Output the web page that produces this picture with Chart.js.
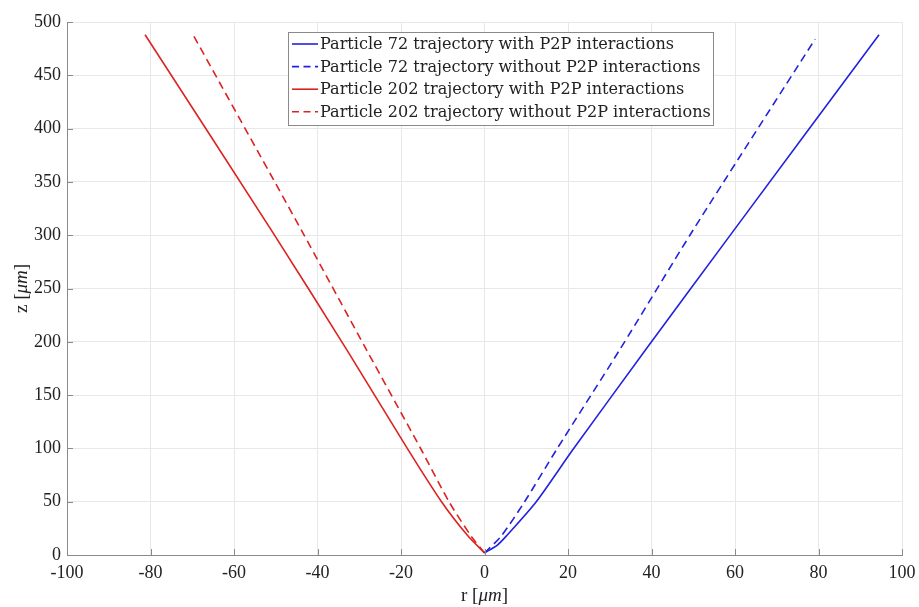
<!DOCTYPE html>
<html>
<head>
<meta charset="utf-8">
<script src="https://cdn.jsdelivr.net/npm/chart.js@4.4.1/dist/chart.umd.min.js"></script>
<style>
  html, body { margin: 0; padding: 0; background: #fff; }
  #wrap { width: 919px; height: 607px; }
</style>
</head>
<body>
<div id="wrap"><canvas id="trajChart" width="919" height="607"></canvas></div>
<script>
// valori (r in um, z in um)
const xTicks = [-100, -80, -60, -40, -20, 0, 20, 40, 60, 80, 100];
const yTicks = [0, 50, 100, 150, 200, 250, 300, 350, 400, 450, 500];

const labels = [
  "Particle 72 trajectory with P2P interactions",
  "Particle 72 trajectory without P2P interactions",
  "Particle 202 trajectory with P2P interactions",
  "Particle 202 trajectory without P2P interactions",
];

const p72WithR = [0, 3.0, 5.2, 12.4, 21.1, 38.5, 59.8, 94.5];
const p72WithZ = [2, 9, 17.7, 50, 98.5, 192, 305, 488];
const p72WithoutR = [0, 4.0, 9.6, 17.2, 32.3, 50.0, 79.2];
const p72WithoutZ = [2, 17.7, 50, 98.5, 192, 305, 484];
const p202WithR = [0, -4.0, -10.3, -18.5, -32.9, -51.1, -81.3];
const p202WithZ = [2, 18, 50, 100, 192, 305, 488];
const p202WithoutR = [0, -3.2, -8.5, -15.1, -28.2, -43.9, -69.8];
const p202WithoutZ = [2, 17.7, 50, 98.5, 192, 305, 488];

const BLUE = "#2222dd";
const RED = "#dd2222";
const FONT = "'Liberation Serif', 'DejaVu Serif', serif";
const LEGEND_FONT = "'DejaVu Serif', serif";

function pts(rs, zs) {
  return rs.map((r, i) => ({ x: r, y: zs[i] }));
}

function lineSet(label, data, color, dashed) {
  return {
    label: label,
    data: data,
    borderColor: color,
    borderWidth: 1.6,
    borderDash: dashed ? [8, 5] : [],
    pointRadius: 0,
    tension: 0.25,
    fill: false,
  };
}

// tacche verso l'interno, titoli degli assi con micro in corsivo, legenda nel riquadro
const extras = {
  id: "extras",
  afterDraw(chart) {
    const ctx = chart.ctx;
    const area = chart.chartArea;
    const xs = chart.scales.x;
    const ys = chart.scales.y;
    ctx.save();
    ctx.strokeStyle = "#8a8a8a";
    ctx.lineWidth = 1;
    ctx.beginPath();
    xTicks.forEach((v) => {
      const px = Math.round(xs.getPixelForValue(v)) + 0.5;
      ctx.moveTo(px, area.bottom);
      ctx.lineTo(px, area.bottom - 6);
    });
    yTicks.forEach((v) => {
      const py = Math.round(ys.getPixelForValue(v)) + 0.5;
      ctx.moveTo(area.left, py);
      ctx.lineTo(area.left + 6, py);
    });
    ctx.stroke();

    // titoli assi
    ctx.fillStyle = "#222";
    ctx.textBaseline = "middle";
    const drawTitle = (pre, it, post, cx, cy, rot) => {
      ctx.save();
      ctx.translate(cx, cy);
      if (rot) ctx.rotate(-Math.PI / 2);
      const fN = "19px " + FONT;
      const fI = "italic 19px " + FONT;
      ctx.font = fN;
      const w1 = ctx.measureText(pre).width;
      const w3 = ctx.measureText(post).width;
      ctx.font = fI;
      const w2 = ctx.measureText(it).width;
      let x = -(w1 + w2 + w3) / 2;
      ctx.textAlign = "left";
      ctx.font = fN;
      ctx.fillText(pre, x, 0);
      ctx.font = fI;
      ctx.fillText(it, x + w1, 0);
      ctx.font = fN;
      ctx.fillText(post, x + w1 + w2, 0);
      ctx.restore();
    };
    drawTitle("r [", "μm", "]", (area.left + area.right) / 2, 596, false);
    drawTitle("z [", "μm", "]", 22, (area.top + area.bottom) / 2, true);

    // legenda
    const bx = 288, by = 32.5, bw = 425, bh = 93;
    ctx.fillStyle = "#fff";
    ctx.fillRect(bx, by, bw, bh);
    ctx.strokeStyle = "#8a8a8a";
    ctx.lineWidth = 1;
    ctx.strokeRect(bx + 0.5, by, bw, bh);
    // dimensione del testo adattata alla larghezza del riquadro
    ctx.font = "16px " + LEGEND_FONT;
    const widest = Math.max(...chart.data.datasets.map((d) => ctx.measureText(d.label).width));
    const size = 16 * 391 / widest;
    ctx.font = size.toFixed(2) + "px " + LEGEND_FONT;
    ctx.textAlign = "left";
    chart.data.datasets.forEach((ds, i) => {
      const cy = 44 + i * 22.6;
      ctx.strokeStyle = ds.borderColor;
      ctx.lineWidth = 1.6;
      ctx.setLineDash(ds.borderDash.length ? [7, 4.5] : []);
      ctx.beginPath();
      ctx.moveTo(bx + 4, cy);
      ctx.lineTo(bx + 30, cy);
      ctx.stroke();
      ctx.setLineDash([]);
      ctx.fillStyle = "#222";
      ctx.fillText(ds.label, bx + 32, cy + 1);
    });
    ctx.restore();
  },
};

const ctx = document.getElementById("trajChart").getContext("2d");
new Chart(ctx, {
  type: "line",
  data: {
    datasets: [
      lineSet(labels[0], pts(p72WithR, p72WithZ), BLUE, false),
      lineSet(labels[1], pts(p72WithoutR, p72WithoutZ), BLUE, true),
      lineSet(labels[2], pts(p202WithR, p202WithZ), RED, false),
      lineSet(labels[3], pts(p202WithoutR, p202WithoutZ), RED, true),
    ],
  },
  options: {
    responsive: false,
    animation: false,
    layout: { padding: { top: 22, right: 17, left: 0, bottom: 0 } },
    plugins: { legend: { display: false }, tooltip: { enabled: false } },
    scales: {
      x: {
        type: "linear",
        min: -100,
        max: 100,
        afterBuildTicks: (s) => { s.ticks = xTicks.map((v) => ({ value: v })); },
        afterFit: (s) => { s.height = 52; s.paddingLeft = 0; s.paddingRight = 0; },
        grid: { color: "#e8e8e8", drawTicks: false },
        border: { color: "#8a8a8a", width: 1 },
        ticks: { color: "#222", padding: 7, font: { family: FONT, size: 18 }, maxRotation: 0 },
      },
      y: {
        type: "linear",
        min: 0,
        max: 500,
        afterBuildTicks: (s) => { s.ticks = yTicks.map((v) => ({ value: v })); },
        afterFit: (s) => { s.width = 67; s.paddingTop = 0; s.paddingBottom = 0; },
        grid: { color: "#e8e8e8", drawTicks: false },
        border: { color: "#8a8a8a", width: 1 },
        ticks: { color: "#222", padding: 6, font: { family: FONT, size: 18 } },
      },
    },
  },
  plugins: [extras],
});
</script>
</body>
</html>
